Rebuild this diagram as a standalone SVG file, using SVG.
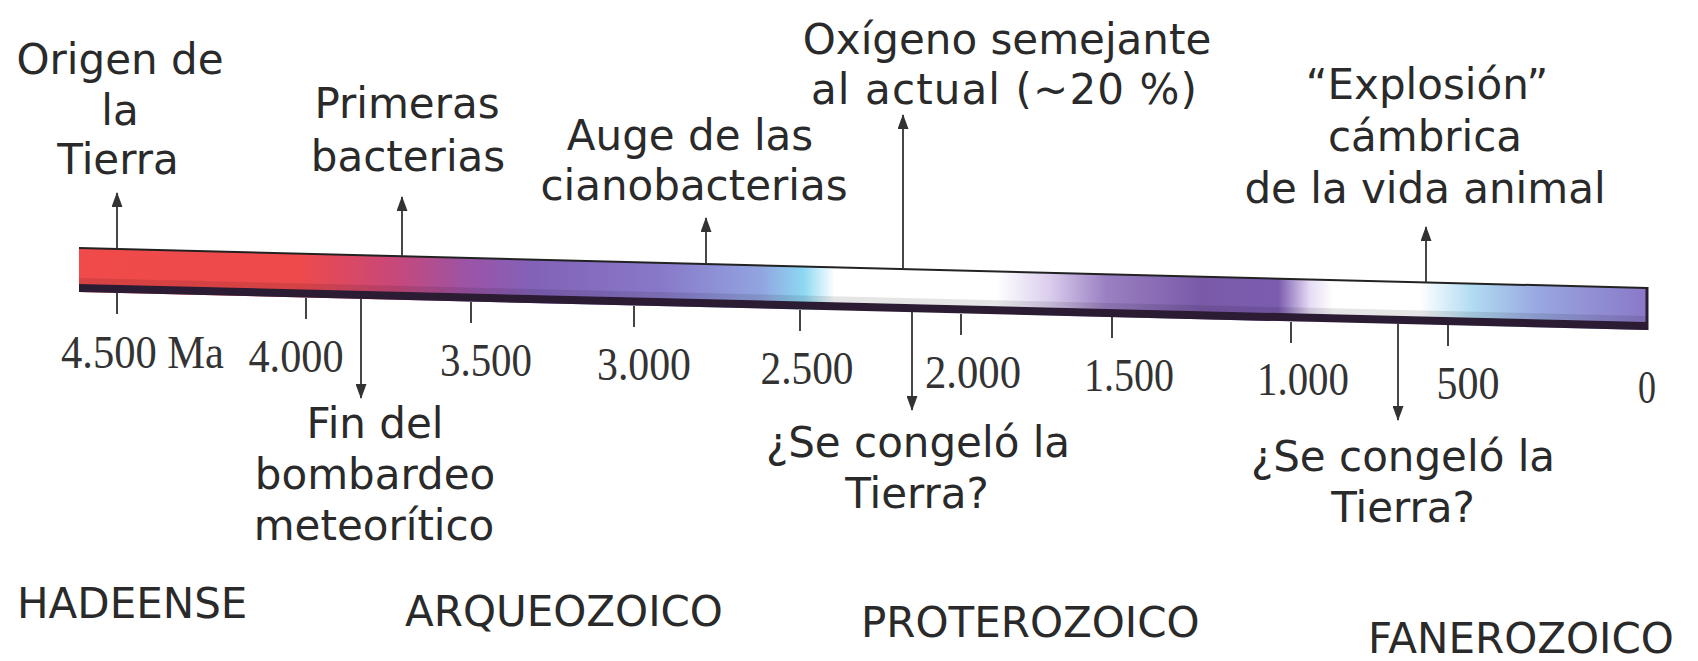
<svg xmlns="http://www.w3.org/2000/svg" width="1698" height="661" viewBox="0 0 1698 661">
<style>
  .lbl { font-family: "DejaVu Sans", Verdana, sans-serif; font-size: 42px; fill: #2a2a2a; text-anchor: middle; }
  .era { font-family: "DejaVu Sans", Verdana, sans-serif; font-size: 42px; fill: #2a2a2a; }
  .num { font-family: "Liberation Serif", "Times New Roman", serif; font-size: 46px; fill: #333; text-anchor: middle; }
  .tick { stroke: #444; stroke-width: 2; }
  .arr { stroke: #333; stroke-width: 1.8; fill: none; marker-end: url(#ah); }
</style>
<defs>
  <marker id="ah" viewBox="0 0 15 11" refX="14" refY="5.5" markerWidth="15" markerHeight="11" markerUnits="userSpaceOnUse" orient="auto">
    <path d="M0,0 L15,5.5 L0,11 Z" fill="#333"/>
  </marker>
  <linearGradient id="barg" gradientUnits="userSpaceOnUse" x1="79" y1="0" x2="1647" y2="0">
    <stop offset="0" stop-color="#f04a4a"/>
    <stop offset="0.14" stop-color="#ee4a4c"/>
    <stop offset="0.2" stop-color="#c84878"/>
    <stop offset="0.25" stop-color="#9a54a8"/>
    <stop offset="0.29" stop-color="#8262b8"/>
    <stop offset="0.37" stop-color="#8878c8"/>
    <stop offset="0.435" stop-color="#92a4e0"/>
    <stop offset="0.462" stop-color="#8cd8f2"/>
    <stop offset="0.482" stop-color="#ffffff"/>
    <stop offset="0.585" stop-color="#ffffff"/>
    <stop offset="0.618" stop-color="#dccfee"/>
    <stop offset="0.655" stop-color="#9a80c2"/>
    <stop offset="0.715" stop-color="#7a5aa8"/>
    <stop offset="0.765" stop-color="#7c5cb0"/>
    <stop offset="0.785" stop-color="#e6dcf4"/>
    <stop offset="0.8" stop-color="#ffffff"/>
    <stop offset="0.855" stop-color="#ffffff"/>
    <stop offset="0.888" stop-color="#b2dcf2"/>
    <stop offset="0.93" stop-color="#98a8e0"/>
    <stop offset="1" stop-color="#8a78c8"/>
  </linearGradient>
</defs>
<rect width="1698" height="661" fill="#ffffff"/>

<g id="bar">
  <polygon points="79,248 1647,288 1647,330 79,292" fill="url(#barg)"/>
  <polygon points="79,278 1647,316 1647,322 79,284" fill="#000" opacity="0.1"/>
  <polygon points="79,284 1647,322 1647,330 79,292" fill="#2b1b33"/>
  <line x1="79" y1="248" x2="1647" y2="288" stroke="#222" stroke-width="2"/>
  <line x1="1647" y1="287" x2="1647" y2="330" stroke="#2b1b33" stroke-width="3"/>
</g>

<g id="ticks">
  <line class="tick" x1="117" y1="293" x2="117" y2="314"/>
  <line class="tick" x1="306" y1="298" x2="306" y2="319"/>
  <line class="tick" x1="471" y1="302" x2="471" y2="323"/>
  <line class="tick" x1="634" y1="306" x2="634" y2="327"/>
  <line class="tick" x1="800" y1="310" x2="800" y2="331"/>
  <line class="tick" x1="961" y1="314" x2="961" y2="335"/>
  <line class="tick" x1="1112" y1="317" x2="1112" y2="338"/>
  <line class="tick" x1="1291" y1="322" x2="1291" y2="343"/>
  <line class="tick" x1="1448" y1="325" x2="1448" y2="346"/>
</g>

<g id="scale-labels">
  <text class="num" x="142.5" y="368" textLength="163" lengthAdjust="spacingAndGlyphs">4.500 Ma</text>
  <text class="num" x="296" y="372" textLength="95" lengthAdjust="spacingAndGlyphs">4.000</text>
  <text class="num" x="486" y="376" textLength="92" lengthAdjust="spacingAndGlyphs">3.500</text>
  <text class="num" x="644" y="380" textLength="94" lengthAdjust="spacingAndGlyphs">3.000</text>
  <text class="num" x="807" y="384" textLength="93" lengthAdjust="spacingAndGlyphs">2.500</text>
  <text class="num" x="973" y="388" textLength="96" lengthAdjust="spacingAndGlyphs">2.000</text>
  <text class="num" x="1129" y="391" textLength="90" lengthAdjust="spacingAndGlyphs">1.500</text>
  <text class="num" x="1303" y="395" textLength="92" lengthAdjust="spacingAndGlyphs">1.000</text>
  <text class="num" x="1468" y="399" textLength="63" lengthAdjust="spacingAndGlyphs">500</text>
  <text class="num" x="1647" y="403" textLength="18" lengthAdjust="spacingAndGlyphs">0</text>
</g>

<g id="connectors">
  <line class="arr" x1="117" y1="249" x2="117" y2="193"/>
  <line class="arr" x1="402" y1="256" x2="402" y2="197"/>
  <line class="arr" x1="706" y1="264" x2="706" y2="218"/>
  <line class="arr" x1="903" y1="269" x2="903" y2="115"/>
  <line class="arr" x1="1426" y1="282" x2="1426" y2="227"/>
  <line class="arr" x1="361" y1="299" x2="361" y2="398"/>
  <line class="arr" x1="912" y1="312" x2="912" y2="410"/>
  <line class="arr" x1="1398" y1="324" x2="1398" y2="420"/>
</g>

<g id="origen">
  <text class="lbl" x="120" y="74">Origen de</text>
  <text class="lbl" x="120" y="125">la</text>
  <text class="lbl" x="118" y="174">Tierra</text>
</g>
<g id="primeras-bacterias">
  <text class="lbl" x="407" y="118">Primeras</text>
  <text class="lbl" x="408" y="171">bacterias</text>
</g>
<g id="cianobacterias">
  <text class="lbl" x="690" y="150">Auge de las</text>
  <text class="lbl" x="694" y="200">cianobacterias</text>
</g>
<g id="oxigeno">
  <text class="lbl" x="1007" y="54">Oxígeno semejante</text>
  <text class="lbl" x="1004" y="104" textLength="386" lengthAdjust="spacing">al actual (~20 %)</text>
</g>
<g id="explosion">
  <text class="lbl" x="1427" y="99">“Explosión”</text>
  <text class="lbl" x="1425" y="151">cámbrica</text>
  <text class="lbl" x="1425" y="203">de la vida animal</text>
</g>
<g id="bombardeo">
  <text class="lbl" x="375" y="438">Fin del</text>
  <text class="lbl" x="375" y="489">bombardeo</text>
  <text class="lbl" x="374" y="540">meteorítico</text>
</g>
<g id="congelo-1">
  <text class="lbl" x="918" y="457">¿Se congeló la</text>
  <text class="lbl" x="917" y="508">Tierra?</text>
</g>
<g id="congelo-2">
  <text class="lbl" x="1403" y="471">¿Se congeló la</text>
  <text class="lbl" x="1403" y="522">Tierra?</text>
</g>

<g id="eras">
  <text class="era" x="17" y="618">HADEENSE</text>
  <text class="era" x="405" y="626">ARQUEOZOICO</text>
  <text class="era" x="861" y="637">PROTEROZOICO</text>
  <text class="era" x="1368" y="653">FANEROZOICO</text>
</g>
</svg>
